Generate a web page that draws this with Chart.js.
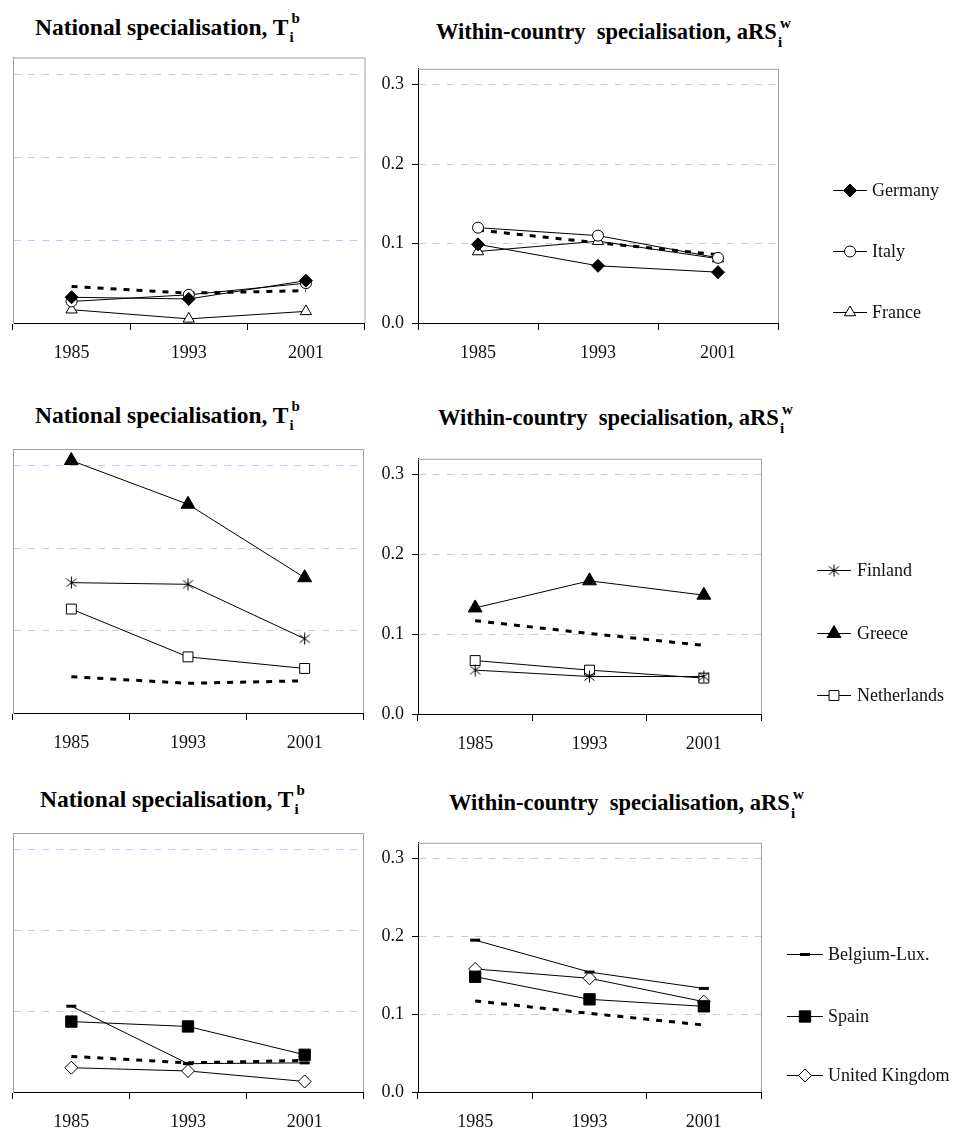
<!DOCTYPE html>
<html><head><meta charset="utf-8">
<script src="https://cdn.jsdelivr.net/npm/chart.js@4.4.1/dist/chart.umd.min.js"></script>
<style>
html,body{margin:0;padding:0;background:#fff;}
#wrap{position:relative;width:960px;height:1129px;overflow:hidden;font-family:"Liberation Serif","Times New Roman",serif;}
canvas{position:absolute;}
.t{position:absolute;font-weight:bold;font-size:23.5px;white-space:pre;color:#000;line-height:24px;}
.t.w{font-size:22.5px;}
.ss{position:relative;display:inline-block;width:12px;height:24px;vertical-align:top;}
.ss .up{position:absolute;left:3px;top:-9px;font-size:15px;}
.ss .dn{position:absolute;left:1px;top:10px;font-size:15px;}
</style>
</head><body>
<div id="wrap">
  <div class="t" style="left:35px;top:15px">National specialisation, T<span class="ss"><span class="up">b</span><span class="dn">i</span></span></div>
  <div class="t w" style="left:436px;top:20px">Within-country  specialisation, aRS<span class="ss"><span class="up">w</span><span class="dn">i</span></span></div>
  <div class="t" style="left:35px;top:403px">National specialisation, T<span class="ss"><span class="up">b</span><span class="dn">i</span></span></div>
  <div class="t w" style="left:438px;top:406px">Within-country  specialisation, aRS<span class="ss"><span class="up">w</span><span class="dn">i</span></span></div>
  <div class="t" style="left:40px;top:787px">National specialisation, T<span class="ss"><span class="up">b</span><span class="dn">i</span></span></div>
  <div class="t w" style="left:449px;top:791px">Within-country  specialisation, aRS<span class="ss"><span class="up">w</span><span class="dn">i</span></span></div>

  <canvas id="c1l" width="372" height="313" style="left:0;top:50px"></canvas>
  <canvas id="c1r" width="590" height="313" style="left:370px;top:50px"></canvas>
  <canvas id="c2l" width="372" height="313" style="left:0;top:440px"></canvas>
  <canvas id="c2r" width="590" height="314" style="left:370px;top:440px"></canvas>
  <canvas id="c3l" width="372" height="305" style="left:0;top:824px"></canvas>
  <canvas id="c3r" width="590" height="305" style="left:370px;top:824px"></canvas>
</div>
<script>
// ---------- data ----------
const years = ['1985', '1993', '2001'];
const yTickLabels = ['0.0', '0.1', '0.2', '0.3'];

const avgNational = [0.044, 0.036, 0.039];
const avgWithin   = [0.117, 0.101, 0.086];

const germanyT = [0.031, 0.029, 0.051];
const italyT   = [0.026, 0.034, 0.048];
const franceT  = [0.016, 0.005, 0.014];
const germanyW = [0.099, 0.072, 0.064];
const italyW   = [0.120, 0.110, 0.082];
const franceW  = [0.090, 0.103, 0.081];

const finlandT     = [0.158, 0.156, 0.090];
const greeceT      = [0.306, 0.253, 0.164];
const netherlandsT = [0.126, 0.068, 0.054];
const finlandW     = [0.055, 0.047, 0.047];
const greeceW      = [0.133, 0.167, 0.149];
const netherlandsW = [0.067, 0.055, 0.045];

const belgiumT = [0.106, 0.035, 0.036];
const spainT   = [0.087, 0.081, 0.046];
const ukT      = [0.030, 0.026, 0.013];
const belgiumW = [0.195, 0.154, 0.133];
const spainW   = [0.148, 0.119, 0.110];
const ukW      = [0.158, 0.146, 0.116];

// ---------- styles ----------
const FONT = '"Liberation Serif", "Times New Roman", serif';

function makeStar() {
  const c = document.createElement('canvas');
  c.width = 13; c.height = 13;
  const g = c.getContext('2d');
  g.strokeStyle = '#000'; g.lineWidth = 1;
  g.beginPath();
  g.moveTo(1.5, 2.5); g.lineTo(11.5, 10.5);
  g.moveTo(11.5, 2.5); g.lineTo(1.5, 10.5);
  g.moveTo(6.5, 0.5); g.lineTo(6.5, 12.5);
  g.stroke();
  return c;
}
const starImg = makeStar();

const markers = {
  Germany:        {pointStyle: 'rectRot',  pointRadius: 6.5, pointBackgroundColor: '#000', pointBorderWidth: 1},
  Italy:          {pointStyle: 'circle',   pointRadius: 5.5, pointBackgroundColor: '#fff', pointBorderWidth: 1},
  France:         {pointStyle: 'triangle', pointRadius: 6.5, pointBackgroundColor: '#fff', pointBorderWidth: 1},
  Finland:        {pointStyle: starImg,    pointRadius: 6,   pointBackgroundColor: '#fff', pointBorderWidth: 1},
  Greece:         {pointStyle: 'triangle', pointRadius: 8,   pointBackgroundColor: '#000', pointBorderWidth: 1},
  Netherlands:    {pointStyle: 'rect',     pointRadius: 7,   pointBackgroundColor: '#fff', pointBorderWidth: 1},
  'Belgium-Lux.': {pointStyle: 'line',     pointRadius: 5,   pointBackgroundColor: '#000', pointBorderWidth: 3},
  Spain:          {pointStyle: 'rect',     pointRadius: 8,   pointBackgroundColor: '#000', pointBorderWidth: 1},
  'United Kingdom': {pointStyle: 'rectRot', pointRadius: 6.5, pointBackgroundColor: '#fff', pointBorderWidth: 1}
};

function series(label, data) {
  const m = markers[label];
  return Object.assign({
    label, data, inLegend: true,
    borderColor: '#000', borderWidth: 1, pointBorderColor: '#000',
    pointHoverRadius: m.pointRadius, tension: 0, clip: false
  }, m);
}
function avgSeries(data) {
  return {label: 'average', data, inLegend: false, borderColor: '#000', borderWidth: 3,
          borderDash: [6, 7], pointRadius: 0, tension: 0, clip: false, borderCapStyle: 'butt'};
}

const boxPlugin = {
  id: 'box',
  beforeDatasetsDraw(chart) {
    const {ctx, chartArea: a} = chart;
    ctx.save();
    ctx.strokeStyle = '#a0a0a0'; ctx.lineWidth = 1;
    ctx.beginPath();
    ctx.moveTo(a.left, a.top + 0.5);
    ctx.lineTo(a.right + 0.5, a.top + 0.5);
    ctx.lineTo(a.right + 0.5, a.bottom);
    ctx.stroke();
    ctx.restore();
  }
};

const legendPlugin = {
  id: 'sideLegend',
  afterDraw(chart, args, opts) {
    if (!opts || !opts.ys) return;
    const ctx = chart.ctx;
    let k = 0;
    chart.data.datasets.forEach(ds => {
      if (!ds.inLegend) return;
      const y = opts.ys[k++];
      ctx.save();
      ctx.strokeStyle = '#000'; ctx.lineWidth = 1;
      ctx.beginPath(); ctx.moveTo(opts.x0, y + 0.5); ctx.lineTo(opts.x1, y + 0.5); ctx.stroke();
      ctx.fillStyle = ds.pointBackgroundColor; ctx.strokeStyle = '#000';
      ctx.lineWidth = ds.pointBorderWidth;
      Chart.helpers.drawPoint(ctx, {pointStyle: ds.pointStyle, radius: ds.pointRadius,
        borderWidth: ds.pointBorderWidth, rotation: 0}, (opts.x0 + opts.x1) / 2, y + 0.5);
      ctx.fillStyle = '#111';
      ctx.font = '18px ' + FONT;
      ctx.textBaseline = 'middle';
      ctx.textAlign = 'left';
      ctx.fillText(ds.label, opts.tx, y + 1);
      ctx.restore();
    });
  }
};

function makeChart(id, datasets, o) {
  const right = o.side === 'right';
  new Chart(document.getElementById(id), {
    type: 'line',
    data: {labels: years, datasets},
    options: {
      responsive: false, animation: false, devicePixelRatio: 1,
      layout: {padding: {top: o.padTop, right: o.padRight, left: 0, bottom: 0}},
      plugins: {legend: {display: false}, tooltip: {enabled: false},
                sideLegend: o.legend || {}},
      scales: {
        x: {
          type: 'category', offset: true,
          grid: {offset: true, drawOnChartArea: false, drawTicks: true, tickLength: 7,
                 color: '#000', tickColor: '#000'},
          border: {color: '#000', width: 1},
          ticks: {font: {family: FONT, size: 18}, color: '#111', padding: o.xPad,
                  maxRotation: 0, autoSkip: false},
          afterFit(s) { s.height = o.xHeight; }
        },
        y: {
          min: 0, max: 0.32,
          ticks: {display: right, stepSize: 0.1, includeBounds: false, padding: 8,
                  font: {family: FONT, size: 18}, color: '#111',
                  callback: v => yTickLabels[Math.round(v * 10)]},
          grid: {color: c => (c.tick && c.tick.value === 0) ? 'rgba(0,0,0,0)' : '#c6c6f4',
                 drawTicks: right, tickLength: 6, tickColor: '#000', lineWidth: 1},
          border: {color: right ? '#000' : '#a0a0a0', width: 1, dash: [7, 7]},
          afterFit(s) { s.width = right ? 48 : 13; }
        }
      }
    },
    plugins: [boxPlugin, legendPlugin]
  });
}

// Row 1
makeChart('c1l', [series('Germany', germanyT), series('Italy', italyT), series('France', franceT), avgSeries(avgNational)],
  {side: 'left', padTop: 6, padRight: 4, xHeight: 40, xPad: 12});
makeChart('c1r', [series('Germany', germanyW), series('Italy', italyW), series('France', franceW), avgSeries(avgWithin)],
  {side: 'right', padTop: 11, padRight: 182, xHeight: 40, xPad: 12,
   legend: {x0: 463, x1: 497, tx: 502, ys: [140, 201, 262]}});
// Row 2
makeChart('c2l', [series('Finland', finlandT), series('Greece', greeceT), series('Netherlands', netherlandsT), avgSeries(avgNational)],
  {side: 'left', padTop: 7, padRight: 6, xHeight: 40, xPad: 12});
makeChart('c2r', [series('Finland', finlandW), series('Greece', greeceW), series('Netherlands', netherlandsW), avgSeries(avgWithin)],
  {side: 'right', padTop: 13, padRight: 199, xHeight: 40, xPad: 12,
   legend: {x0: 447, x1: 481, tx: 487, ys: [130, 193, 255]}});
// Row 3
makeChart('c3l', [series('Belgium-Lux.', belgiumT), series('Spain', spainT), series('United Kingdom', ukT), avgSeries(avgNational)],
  {side: 'left', padTop: 6, padRight: 6, xHeight: 37, xPad: 12});
makeChart('c3r', [series('Belgium-Lux.', belgiumW), series('Spain', spainW), series('United Kingdom', ukW), avgSeries(avgWithin)],
  {side: 'right', padTop: 6, padRight: 199, xHeight: 37, xPad: 12,
   legend: {x0: 417, x1: 453, tx: 458, ys: [130, 192, 251]}});
</script>
</body></html>
